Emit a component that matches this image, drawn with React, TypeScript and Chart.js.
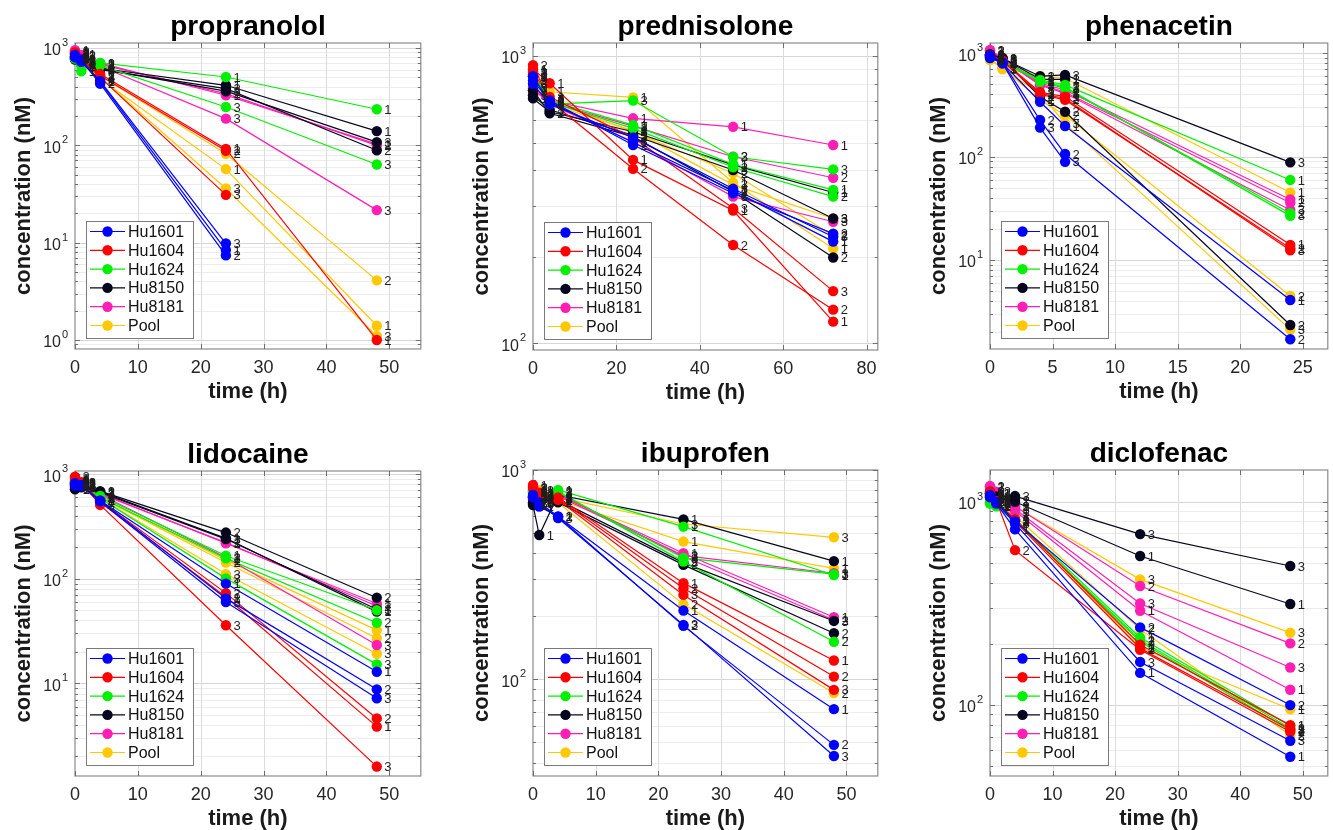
import React, { useEffect, useRef } from "react";
import { Chart, registerables } from "chart.js";
Chart.register(...registerables);

// ---------------- data ----------------
const donors = ["Hu1601", "Hu1604", "Hu1624", "Hu8150", "Hu8181", "Pool"];
const replicateLabels = ["1", "2", "3"];

// propranolol
const propranololTimes = [0, 1, 4, 24, 48];
const propranololHu1601 = [[850, 760, 450, 8.4, null], [820, 740, 430, 7.4, null], [800, 720, 460, 9.8, null]];
const propranololHu1604 = [[900, 780, 540, 92, 1.0], [880, 770, 520, 88, null], [860, 760, 500, 31, null]];
const propranololHu1624 = [[800, 576, 702, 504, 235], [820, 650, 690, null, null], [780, 700, 660, 248, 63.5]];
const propranololHu8150 = [[780, 720, 620, 414, 140], [800, 700, 600, 383, 89], [760, 710, 610, 360, 108]];
const propranololHu8181 = [[950, 850, 700, 327, 103], [920, 830, 680, 340, 100], [900, 820, 650, 188, 21.6]];
const propranololPool = [[850, 700, 484, 57, 1.4], [820, 680, 520, 82, 4.1], [880, 720, 500, 36, 1.1]];

// prednisolone
const prednisoloneTimes = [0, 4, 24, 48, 72];
const prednisoloneHu1601 = [[850, 690, 500, 340, 226], [820, 700, 490, 333, 241], [800, 680, 520, 345, 235]];
const prednisoloneHu1604 = [[900, 804, 435, 290, 119], [930, 700, 405, 220, 131], [880, 720, 520, 295, 152]];
const prednisoloneHu1624 = [[860, 700, 575, 420, 342], [880, 690, 560, 410, 324], [850, 680, 700, 446, 403]];
const prednisoloneHu8150 = [[712, 640, 545, 418, 335], [760, 632, 524, 337, 199], [730, 650, 530, 401, 272]];
const prednisoloneHu8181 = [[757, 700, 607, 567, 490], [780, 690, 570, 446, 377], [770, 680, 503, 324, 265]];
const prednisolonePool = [[894, 751, 718, 362, 214], [860, 700, 545, 391, 237], [840, 680, 550, 356, 272]];

// phenacetin
const phenacetinTimes = [0, 1, 4, 6, 24];
const phenacetinHu1601 = [[900, 800, 340, 198, 4.1], [950, 820, 226, 106, 1.71], [920, 800, 191, 89, null]];
const phenacetinHu1604 = [[950, 850, 420, 381, 14.0], [930, 840, 400, 354, 13.0], [940, 830, 410, 365, 12.4]];
const phenacetinHu1624 = [[900, 830, 552, 494, 59.5], [920, 840, 530, 458, 28.3], [910, 820, 540, 470, 26.7]];
const phenacetinHu8150 = [[980, 900, 560, 560, null], [960, 880, 380, 272, 2.35], [970, 890, 600, 617, 88]];
const phenacetinHu8181 = [[1077, 900, 513, 441, 38.5], [1050, 880, 500, 420, 35.8], [1060, 870, 490, 410, 30.5]];
const phenacetinPool = [[880, 716, 603, 573, 44.9], [860, 720, 354, 253, 4.48], [900, 700, 410, 210, 2.12]];

// lidocaine
const lidocaineTimes = [0, 1, 4, 24, 48];
const lidocaineHu1601 = [[800, 780, 560, 90, 12.9], [820, 790, 560, 65, 8.77], [780, 770, 550, 60, 7.2]];
const lidocaineHu1604 = [[900, 820, 540, 67, 3.86], [950, 840, 560, 73, 4.62], [920, 830, 509, 36, 1.6]];
const lidocaineHu1624 = [[850, 800, 620, 166, 50], [860, 810, 600, 157, 38], [840, 790, 590, 101, 15.2]];
const lidocaineHu8150 = [[720, 750, 683, 244, 48.6], [760, 780, 690, 277, 66], [740, 760, 670, 240, 51.2]];
const lidocaineHu8181 = [[800, 790, 658, 219, 58], [820, 800, 650, 222, 55], [810, 780, 640, 160, 23.3]];
const lidocainePool = [[880, 820, 602, 151, 32.3], [850, 810, 600, 143, 27], [870, 800, 590, 111, 19.2]];

// ibuprofen
const ibuprofenTimes = [0, 1, 4, 24, 48];
const ibuprofenHu1601 = [[760, 668, 600, 213, 72], [740, 700, 599, 180, 48.6], [750, 690, 590, 182, 43]];
const ibuprofenHu1604 = [[848, 780, 740, 288, 123], [820, 770, 730, 272, 103], [830, 760, 720, 253, 89]];
const ibuprofenHu1624 = [[800, 760, 803, 536, 315], [790, 770, 790, 365, 151], [780, 750, 780, 380, 318]];
const ibuprofenHu8150 = [[680, 489, 760, 581, 367], [700, 720, 700, 352, 166], [690, 710, 720, 360, 190]];
const ibuprofenHu8181 = [[730, 720, 760, 400, 198], [740, 730, 770, 386, 192], [720, 710, 750, 390, 321]];
const ibuprofenPool = [[800, 790, 719, 455, 339], [780, 760, 700, 228, 86], [820, 800, 740, 552, 477]];

// diclofenac
const diclofenacTimes = [0, 1, 4, 24, 48];
const diclofenacHu1601 = [[1050, 980, 731, 144, 55.7], [1080, 1000, 800, 241, 100], [1060, 990, 780, 163, 66.8]];
const diclofenacHu1604 = [[1100, 1000, 820, 198, 79.7], [1120, 1010, 578, 187, 74], [1090, 990, 800, 190, 76]];
const diclofenacHu1624 = [[1000, 960, 820, 215, 79], [980, 950, 800, 209, 77], [990, 970, 810, 205, 75]];
const diclofenacHu8150 = [[1100, 1050, 1000, 541, 314], [1080, 1040, 1020, null, null], [1120, 1060, 1066, 693, 483]];
const diclofenacHu8181 = [[1190, 1100, 900, 291, 119], [1194, 1120, 950, 385, 201], [1180, 1100, 920, 316, 153]];
const diclofenacPool = [[1050, 1000, 828, 192, 95.4], [1040, 990, 850, 236, 71], [1060, 1010, 945, 415, 227]];

// ---------------- styles / layout ----------------
const donorColors = ["#0000ff", "#ff0000", "#00f000", "#06061e", "#ff1eb4", "#ffc800"];
const FONT = "'Liberation Sans', Arial, Helvetica, sans-serif";

type Panel = {
  title: string;
  times: number[];
  series: (number | null)[][][];
  xMax: number;
  xStep: number;
  yMin: number;
  yMax: number;
  L: number; T: number; R: number; B: number;
};

const panels: Panel[] = [
  { title: "propranolol", times: propranololTimes,
    series: [propranololHu1601, propranololHu1604, propranololHu1624, propranololHu8150, propranololHu8181, propranololPool],
    xMax: 55, xStep: 10, yMin: 0.808, yMax: 1126, L: 75, T: 43, R: 423, B: 349 },
  { title: "prednisolone", times: prednisoloneTimes,
    series: [prednisoloneHu1601, prednisoloneHu1604, prednisoloneHu1624, prednisoloneHu8150, prednisoloneHu8181, prednisolonePool],
    xMax: 82.7, xStep: 20, yMin: 94.8, yMax: 1110, L: 533, T: 43, R: 880, B: 350 },
  { title: "phenacetin", times: phenacetinTimes,
    series: [phenacetinHu1601, phenacetinHu1604, phenacetinHu1624, phenacetinHu8150, phenacetinHu8181, phenacetinPool],
    xMax: 27, xStep: 5, yMin: 1.375, yMax: 1258, L: 990, T: 43, R: 1330, B: 349 },
  { title: "lidocaine", times: lidocaineTimes,
    series: [lidocaineHu1601, lidocaineHu1604, lidocaineHu1624, lidocaineHu8150, lidocaineHu8181, lidocainePool],
    xMax: 55, xStep: 10, yMin: 1.3, yMax: 1075, L: 75, T: 471, R: 423, B: 776 },
  { title: "ibuprofen", times: ibuprofenTimes,
    series: [ibuprofenHu1601, ibuprofenHu1604, ibuprofenHu1624, ibuprofenHu8150, ibuprofenHu8181, ibuprofenPool],
    xMax: 55, xStep: 10, yMin: 34.5, yMax: 1000, L: 533, T: 470, R: 880, B: 776 },
  { title: "diclofenac", times: diclofenacTimes,
    series: [diclofenacHu1601, diclofenacHu1604, diclofenacHu1624, diclofenacHu8150, diclofenacHu8181, diclofenacPool],
    xMax: 54, xStep: 10, yMin: 44.8, yMax: 1432, L: 990, T: 470, R: 1330, B: 776 },
];

const PAD_LEFT = 75;
const PAD_TOP = 43;
const X_AXIS_H = 58;
const PAD_RIGHT = 3;
const MARKER_R = 5.2;

function makePlugin(panel: Panel) {
  return {
    id: "matlabStyle",
    beforeDatasetsDraw(chart: any) {
      const { ctx, chartArea: a, scales } = chart;
      const y = scales.y;
      const x = scales.x;
      ctx.save();
      const e0 = Math.floor(Math.log10(panel.yMin));
      const e1 = Math.ceil(Math.log10(panel.yMax));
      for (let e = e0; e <= e1; e++) {
        for (let m = 1; m <= 9; m++) {
          const v = m * Math.pow(10, e);
          if (v < panel.yMin || v > panel.yMax) continue;
          const py = Math.round(y.getPixelForValue(v)) + 0.5;
          ctx.strokeStyle = m === 1 ? "#d6d6d6" : "#ececec";
          ctx.lineWidth = 1;
          ctx.beginPath();
          ctx.moveTo(a.left, py);
          ctx.lineTo(a.right, py);
          ctx.stroke();
        }
      }
      for (let t = panel.xStep; t < panel.xMax; t += panel.xStep) {
        const px = Math.round(x.getPixelForValue(t)) + 0.5;
        ctx.strokeStyle = "#dcdcdc";
        ctx.beginPath();
        ctx.moveTo(px, a.top);
        ctx.lineTo(px, a.bottom);
        ctx.stroke();
      }
      ctx.strokeStyle = "#8a8a8a";
      ctx.lineWidth = 1.2;
      ctx.strokeRect(a.left, a.top, a.right - a.left, a.bottom - a.top);
      ctx.strokeStyle = "#6e6e6e";
      ctx.lineWidth = 1;
      for (let e = e0; e <= e1; e++) {
        for (let m = 1; m <= 9; m++) {
          const v = m * Math.pow(10, e);
          if (v < panel.yMin || v > panel.yMax) continue;
          const py = Math.round(y.getPixelForValue(v)) + 0.5;
          const len = m === 1 ? 5 : 3;
          ctx.beginPath();
          ctx.moveTo(a.left, py); ctx.lineTo(a.left + len, py);
          ctx.moveTo(a.right, py); ctx.lineTo(a.right - len, py);
          ctx.stroke();
        }
      }
      for (let t = 0; t <= panel.xMax; t += panel.xStep) {
        const px = Math.round(x.getPixelForValue(t)) + 0.5;
        ctx.beginPath();
        ctx.moveTo(px, a.bottom); ctx.lineTo(px, a.bottom - 5);
        ctx.moveTo(px, a.top); ctx.lineTo(px, a.top + 5);
        ctx.stroke();
      }
      ctx.restore();
    },
    afterDatasetsDraw(chart: any) {
      const { ctx } = chart;
      ctx.save();
      ctx.font = `13px ${FONT}`;
      ctx.fillStyle = "#1e1e1e";
      ctx.textAlign = "left";
      ctx.textBaseline = "middle";
      chart.data.datasets.forEach((ds: any, i: number) => {
        const meta = chart.getDatasetMeta(i);
        meta.data.forEach((pt: any) => {
          ctx.fillText(ds.rep, pt.x + 7.5, pt.y + 1);
        });
      });
      ctx.restore();
    },
    afterDraw(chart: any) {
      const { ctx, chartArea: a, scales } = chart;
      const y = scales.y;
      const cx = (a.left + a.right) / 2;
      ctx.save();
      ctx.fillStyle = "#000";
      ctx.font = `bold 28px ${FONT}`;
      ctx.textAlign = "center";
      ctx.textBaseline = "alphabetic";
      ctx.fillText(panel.title, cx, a.top - 8);
      ctx.font = `bold 22px ${FONT}`;
      ctx.textBaseline = "middle";
      ctx.fillStyle = "#1a1a1a";
      ctx.fillText("time (h)", cx, a.bottom + 43);
      ctx.save();
      ctx.translate(a.left - 51, (a.top + a.bottom) / 2);
      ctx.rotate(-Math.PI / 2);
      ctx.fillText("concentration (nM)", 0, 0);
      ctx.restore();
      const e0 = Math.ceil(Math.log10(panel.yMin) - 1e-9);
      const e1 = Math.floor(Math.log10(panel.yMax) + 1e-9);
      ctx.fillStyle = "#262626";
      for (let e = e0; e <= e1; e++) {
        const py = y.getPixelForValue(Math.pow(10, e));
        ctx.font = `16px ${FONT}`;
        ctx.textAlign = "right";
        ctx.textBaseline = "middle";
        ctx.fillText("10", a.left - 14, py + 3);
        ctx.font = `11px ${FONT}`;
        ctx.textAlign = "left";
        ctx.fillText(String(e), a.left - 13, py - 5);
      }
      const lx = a.left + 11;
      const lw = 107;
      const lh = 117;
      const ly = a.bottom - 11 - lh;
      ctx.fillStyle = "#ffffff";
      ctx.fillRect(lx, ly, lw, lh);
      ctx.strokeStyle = "#7a7a7a";
      ctx.lineWidth = 1;
      ctx.strokeRect(lx + 0.5, ly + 0.5, lw, lh);
      donors.forEach((name, i) => {
        const ry = ly + 10.5 + i * 18.8;
        ctx.strokeStyle = donorColors[i];
        ctx.lineWidth = 1.2;
        ctx.beginPath();
        ctx.moveTo(lx + 4, ry);
        ctx.lineTo(lx + 39, ry);
        ctx.stroke();
        ctx.fillStyle = donorColors[i];
        ctx.beginPath();
        ctx.arc(lx + 21.5, ry, MARKER_R, 0, Math.PI * 2);
        ctx.fill();
        ctx.fillStyle = "#111";
        ctx.font = `16px ${FONT}`;
        ctx.textAlign = "left";
        ctx.textBaseline = "middle";
        ctx.fillText(name, lx + 42, ry + 1);
      });
      ctx.restore();
    },
  };
}

function PanelChart({ panel }: { panel: Panel }) {
  const ref = useRef<HTMLCanvasElement | null>(null);
  const left = panel.L - PAD_LEFT;
  const top = panel.T - PAD_TOP;
  const width = panel.R - left + PAD_RIGHT;
  const height = panel.B - top + X_AXIS_H;

  useEffect(() => {
    if (!ref.current) return;
    const datasets: any[] = [];
    panel.series.forEach((donorSeries, d) => {
      donorSeries.forEach((rep, r) => {
        const pts = panel.times
          .map((t, i) => (rep[i] == null ? null : { x: t, y: rep[i] as number }))
          .filter((p) => p !== null);
        datasets.push({
          label: `${donors[d]} ${replicateLabels[r]}`,
          rep: replicateLabels[r],
          data: pts,
          borderColor: donorColors[d],
          backgroundColor: donorColors[d],
          pointBackgroundColor: donorColors[d],
          pointBorderColor: donorColors[d],
          pointRadius: MARKER_R,
          pointBorderWidth: 0,
          borderWidth: 1.2,
          tension: 0,
          clip: false,
        });
      });
    });
    const chart = new Chart(ref.current, {
      type: "line",
      data: { datasets },
      options: {
        animation: false,
        responsive: false,
        maintainAspectRatio: false,
        devicePixelRatio: 1,
        layout: { padding: { left: 0, top: PAD_TOP, right: PAD_RIGHT, bottom: 0 } },
        plugins: {
          legend: { display: false },
          tooltip: { enabled: false },
          title: { display: false },
        },
        scales: {
          x: {
            type: "linear",
            min: 0,
            max: panel.xMax,
            grid: { display: false },
            border: { display: false },
            ticks: {
              stepSize: panel.xStep,
              includeBounds: false,
              padding: 0,
              color: "#262626",
              font: { family: FONT, size: 18 },
              maxRotation: 0,
              autoSkip: false,
            },
            afterFit: (s: any) => { s.height = X_AXIS_H; },
          },
          y: {
            type: "logarithmic",
            min: panel.yMin,
            max: panel.yMax,
            grid: { display: false },
            border: { display: false },
            ticks: { display: false },
            afterFit: (s: any) => { s.width = PAD_LEFT; },
          },
        },
      } as any,
      plugins: [makePlugin(panel)],
    });
    return () => chart.destroy();
  }, [panel]);

  return (
    <canvas
      ref={ref}
      width={width}
      height={height}
      style={{ position: "absolute", left, top, width, height }}
    />
  );
}

export default function App() {
  return (
    <div style={{ position: "absolute", left: 0, top: 0, width: 1333, height: 830, background: "#fff", overflow: "hidden" }}>
      {panels.map((p) => (
        <PanelChart key={p.title} panel={p} />
      ))}
    </div>
  );
}
